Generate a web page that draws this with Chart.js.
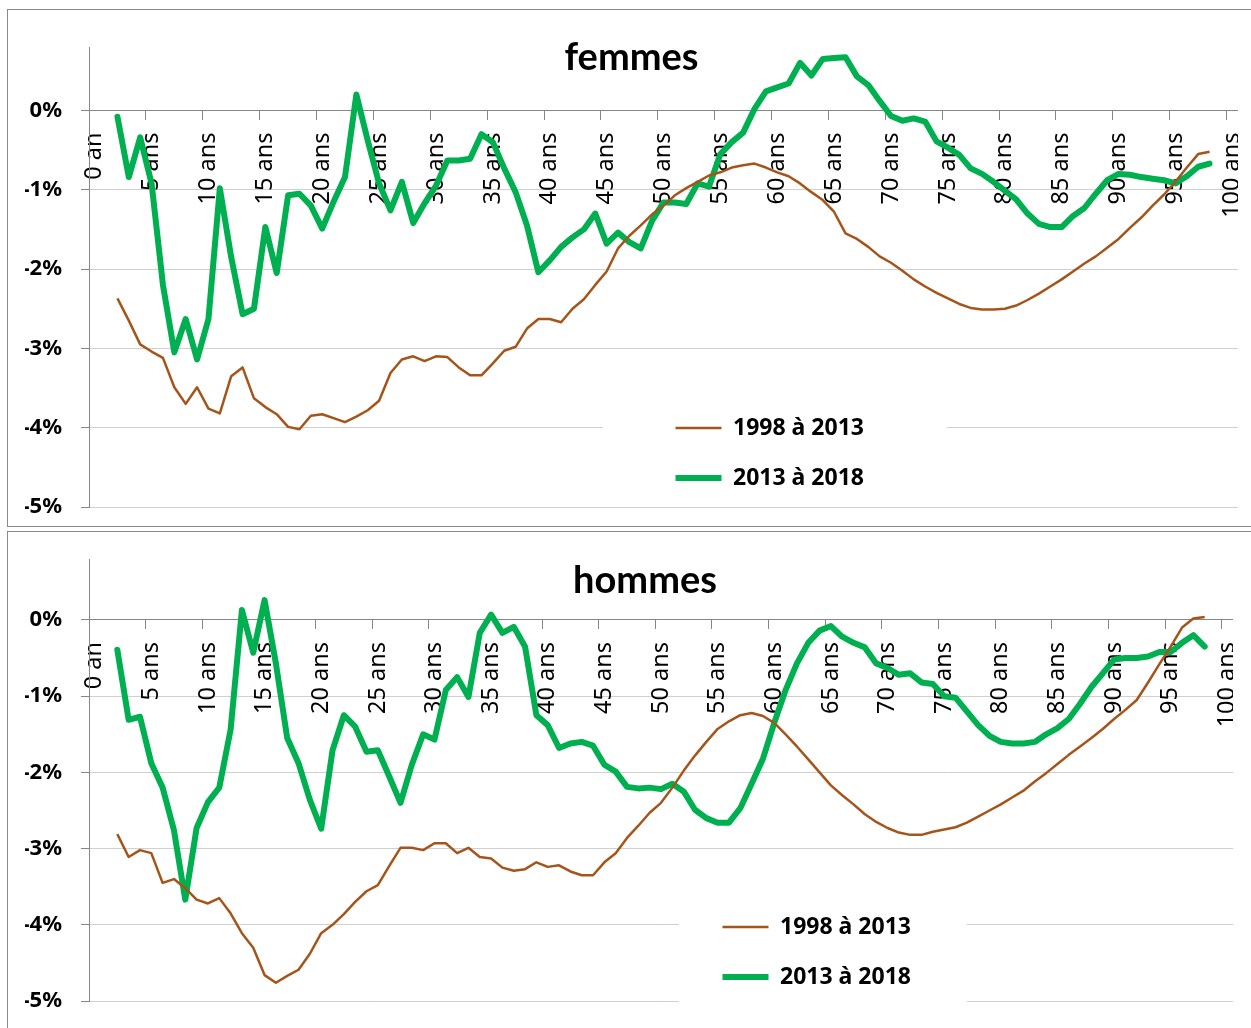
<!DOCTYPE html>
<html lang="fr">
<head>
<meta charset="utf-8">
<title>Évolution par âge - femmes et hommes</title>
<script src="https://cdn.jsdelivr.net/npm/chart.js@4.4.1/dist/chart.umd.min.js"></script>
<style>
  html, body { margin: 0; padding: 0; background: #fff; overflow: hidden; width: 1251px; height: 1028px; }
  .frame { position: absolute; left: 7px; width: 1300px; border: 1px solid #8a8a8a; background: #fff; }
  #frameF { top: 9px; height: 516px; }
  #frameH { top: 531px; height: 520px; }
  .box { position: absolute; left: 0; top: 0; }
  #boxF { width: 1230px; height: 516px; }
  #boxH { width: 1225px; height: 496px; }
</style>
</head>
<body>
<div class="frame" id="frameF"><div class="box" id="boxF"><canvas id="chartF"></canvas></div></div>
<div class="frame" id="frameH"><div class="box" id="boxH"><canvas id="chartH"></canvas></div></div>
<script>
// one category per age
const ageLabels = [
  '0 an', '1 an', '2 ans', '3 ans', '4 ans', '5 ans', '6 ans', '7 ans', '8 ans', '9 ans',
  '10 ans', '11 ans', '12 ans', '13 ans', '14 ans', '15 ans', '16 ans', '17 ans', '18 ans', '19 ans',
  '20 ans', '21 ans', '22 ans', '23 ans', '24 ans', '25 ans', '26 ans', '27 ans', '28 ans', '29 ans',
  '30 ans', '31 ans', '32 ans', '33 ans', '34 ans', '35 ans', '36 ans', '37 ans', '38 ans', '39 ans',
  '40 ans', '41 ans', '42 ans', '43 ans', '44 ans', '45 ans', '46 ans', '47 ans', '48 ans', '49 ans',
  '50 ans', '51 ans', '52 ans', '53 ans', '54 ans', '55 ans', '56 ans', '57 ans', '58 ans', '59 ans',
  '60 ans', '61 ans', '62 ans', '63 ans', '64 ans', '65 ans', '66 ans', '67 ans', '68 ans', '69 ans',
  '70 ans', '71 ans', '72 ans', '73 ans', '74 ans', '75 ans', '76 ans', '77 ans', '78 ans', '79 ans',
  '80 ans', '81 ans', '82 ans', '83 ans', '84 ans', '85 ans', '86 ans', '87 ans', '88 ans', '89 ans',
  '90 ans', '91 ans', '92 ans', '93 ans', '94 ans', '95 ans', '96 ans', '97 ans', '98 ans', '99 ans',
  '100 ans'
];

// series start at 2 ans and stop at 98 ans (values in %)
const firstAge = 2;

const femmes9813 = [
  -2.37, -2.65, -2.95, -3.04, -3.12, -3.49, -3.70, -3.49, -3.76, -3.82,
  -3.35, -3.24, -3.63, -3.74, -3.83, -3.99, -4.02, -3.85, -3.83, -3.88,
  -3.93, -3.86, -3.78, -3.66, -3.31, -3.14, -3.10, -3.16, -3.10, -3.11,
  -3.24, -3.34, -3.34, -3.19, -3.03, -2.98, -2.75, -2.63, -2.63, -2.67,
  -2.50, -2.38, -2.20, -2.03, -1.74, -1.58, -1.45, -1.31, -1.20, -1.07,
  -0.98, -0.90, -0.82, -0.78, -0.72, -0.69, -0.67, -0.72, -0.78, -0.83,
  -0.92, -1.03, -1.13, -1.28, -1.55, -1.62, -1.72, -1.84, -1.92, -2.02,
  -2.13, -2.22, -2.30, -2.37, -2.44, -2.49, -2.51, -2.51, -2.50, -2.46,
  -2.39, -2.31, -2.22, -2.13, -2.03, -1.93, -1.84, -1.73, -1.62, -1.48,
  -1.35, -1.20, -1.06, -0.90, -0.72, -0.55, -0.52
];

const femmes1318 = [
  -0.08, -0.84, -0.34, -0.92, -2.20, -3.05, -2.63, -3.14, -2.63, -0.98,
  -1.85, -2.57, -2.50, -1.47, -2.05, -1.07, -1.05, -1.20, -1.49, -1.15,
  -0.84, 0.20, -0.38, -0.92, -1.26, -0.90, -1.42, -1.17, -0.95, -0.63,
  -0.63, -0.61, -0.30, -0.40, -0.73, -1.03, -1.45, -2.04, -1.89, -1.72,
  -1.60, -1.50, -1.30, -1.68, -1.54, -1.66, -1.74, -1.39, -1.16, -1.16,
  -1.18, -0.92, -0.96, -0.55, -0.40, -0.28, 0.02, 0.24, 0.29, 0.34,
  0.60, 0.44, 0.65, 0.66, 0.67, 0.43, 0.32, 0.12, -0.07, -0.13,
  -0.10, -0.14, -0.39, -0.47, -0.56, -0.73, -0.80, -0.90, -1.01, -1.12,
  -1.30, -1.43, -1.47, -1.47, -1.33, -1.23, -1.05, -0.88, -0.80, -0.81,
  -0.84, -0.86, -0.88, -0.92, -0.83, -0.71, -0.67
];

const hommes9813 = [
  -2.81, -3.11, -3.02, -3.06, -3.45, -3.40, -3.52, -3.67, -3.72, -3.65,
  -3.85, -4.11, -4.30, -4.66, -4.76, -4.67, -4.59, -4.38, -4.11, -4.00,
  -3.86, -3.70, -3.56, -3.48, -3.23, -2.99, -2.99, -3.02, -2.93, -2.93,
  -3.06, -2.99, -3.11, -3.13, -3.25, -3.29, -3.27, -3.18, -3.24, -3.22,
  -3.30, -3.35, -3.35, -3.18, -3.06, -2.86, -2.70, -2.53, -2.40, -2.20,
  -1.98, -1.78, -1.60, -1.43, -1.33, -1.25, -1.22, -1.26, -1.35, -1.50,
  -1.66, -1.83, -2.00, -2.17, -2.30, -2.42, -2.55, -2.65, -2.73, -2.79,
  -2.82, -2.82, -2.78, -2.75, -2.72, -2.66, -2.58, -2.50, -2.42, -2.33,
  -2.24, -2.12, -2.01, -1.89, -1.77, -1.66, -1.55, -1.43, -1.30, -1.18,
  -1.05, -0.82, -0.58, -0.35, -0.10, 0.02, 0.04
];

const hommes1318 = [
  -0.39, -1.31, -1.27, -1.88, -2.20, -2.76, -3.67, -2.73, -2.39, -2.20,
  -1.44, 0.13, -0.43, 0.26, -0.57, -1.55, -1.88, -2.36, -2.74, -1.71,
  -1.25, -1.40, -1.73, -1.71, -2.05, -2.40, -1.90, -1.50, -1.57, -0.92,
  -0.75, -1.01, -0.17, 0.07, -0.17, -0.09, -0.35, -1.25, -1.38, -1.68,
  -1.62, -1.60, -1.65, -1.90, -1.99, -2.19, -2.21, -2.20, -2.22, -2.15,
  -2.25, -2.49, -2.60, -2.66, -2.66, -2.47, -2.15, -1.82, -1.35, -0.92,
  -0.57, -0.30, -0.14, -0.08, -0.22, -0.30, -0.36, -0.57, -0.63, -0.72,
  -0.70, -0.82, -0.84, -1.00, -1.02, -1.20, -1.38, -1.52, -1.60, -1.62,
  -1.62, -1.60, -1.50, -1.42, -1.30, -1.10, -0.88, -0.70, -0.52, -0.50,
  -0.50, -0.48, -0.42, -0.42, -0.30, -0.20, -0.35
];

const BROWN = '#a5541a';
const GREEN = '#00b050';
const AXIS = '#868686';
const GRID = '#d0d0d0';

Chart.defaults.font.family = '"Noto Sans", sans-serif';
Chart.defaults.color = '#000';

// spread a series over the full age list
function byAge(values) {
  return ageLabels.map((_, i) => {
    const k = i - firstAge;
    return (k >= 0 && k < values.length) ? values[k] : null;
  });
}

// moves the legend inside the plot and blanks the grid behind it, like the excel legend box
const legendSpot = {
  id: 'legendSpot',
  afterLayout(chart, args, opts) {
    const lg = chart.legend;
    if (!lg) return;
    const w = lg.width, h = lg.height;
    lg.left = opts.x;
    lg.top = opts.y;
    lg.right = opts.x + w;
    lg.bottom = opts.y + h;
  },
  beforeDatasetsDraw(chart, args, opts) {
    const [x, y, w, h] = opts.clear;
    const ctx = chart.ctx;
    ctx.save();
    ctx.fillStyle = '#ffffff';
    ctx.fillRect(x, y, w, h);
    ctx.restore();
    chart.legend.draw();
  }
};

function makeChart(id, p) {
  return new Chart(document.getElementById(id), {
    type: 'line',
    data: {
      labels: ageLabels,
      datasets: [
        {
          label: '1998 à 2013',
          data: byAge(p.older),
          borderColor: BROWN,
          backgroundColor: BROWN,
          borderWidth: 2.5,
          pointBorderColor: BROWN,
          pointBorderWidth: 2.5,
          borderJoinStyle: 'round'
        },
        {
          label: '2013 à 2018',
          data: byAge(p.recent),
          borderColor: GREEN,
          backgroundColor: GREEN,
          borderWidth: 6,
          pointBorderColor: GREEN,
          pointBorderWidth: 6,
          borderJoinStyle: 'round',
          borderCapStyle: 'round'
        }
      ]
    },
    options: {
      responsive: true,
      maintainAspectRatio: false,
      animation: false,
      events: [],
      // a negative right padding only widens the title box, so the title sits where excel put it
      layout: { padding: { left: 17, right: p.padRight, top: 0, bottom: p.padBottom } },
      elements: { line: { tension: 0 }, point: { radius: 0, hoverRadius: 0 } },
      scales: {
        x: {
          type: 'category',
          position: { y: 0 },
          offset: true,
          afterFit: (s) => { s.height = 0; s.paddingLeft = 0; s.paddingRight = 0; },
          grid: {
            drawOnChartArea: false,
            offset: true,
            tickLength: 9,
            tickColor: (c) => (c.index % 5 === 0 ? AXIS : 'rgba(0,0,0,0)')
          },
          border: { color: AXIS, width: 1 },
          ticks: {
            autoSkip: false,
            minRotation: 90,
            maxRotation: 90,
            padding: 13,
            color: '#000',
            font: { size: 23.5 },
            callback(v, i) { return i % 5 === 0 ? this.getLabelForValue(v) : ''; }
          }
        },
        y: {
          min: -5,
          max: 0.8,
          afterBuildTicks: (s) => { s.ticks = s.ticks.filter((t) => Number.isInteger(t.value)); },
          afterFit: (s) => { s.width = 64; s.paddingTop = 0; s.paddingBottom = 0; },
          grid: {
            color: (c) => (c.tick && c.tick.value === 0 ? AXIS : GRID),
            tickLength: 8,
            tickColor: AXIS
          },
          border: { color: AXIS, width: 1 },
          ticks: {
            stepSize: 1,
            padding: 19,
            color: '#000',
            font: { size: 22, weight: 'bold' },
            callback: (v) => v + '%'
          }
        }
      },
      plugins: {
        title: {
          display: true,
          text: p.title,
          color: '#000',
          font: { family: 'Lato', size: 38, weight: 'bold', lineHeight: 1.2 },
          padding: { top: p.titleTop, bottom: p.titleBottom }
        },
        legend: {
          position: 'chartArea',
          align: 'start',
          labels: {
            usePointStyle: true,
            pointStyle: 'line',
            pointStyleWidth: 46,
            padding: 27,
            color: '#000',
            font: { size: 23, weight: 'bold' }
          }
        },
        tooltip: { enabled: false },
        legendSpot: { x: p.legendX, y: p.legendY, clear: p.clear }
      }
    },
    plugins: [legendSpot]
  });
}

makeChart('chartF', {
  title: 'femmes',
  older: femmes9813,
  recent: femmes1318,
  padRight: 0,
  padBottom: 19,
  titleTop: 25,
  titleBottom: -33.6,
  legendX: 640.5,
  legendY: 379.5,
  clear: [595, 386, 344, 96]
});

makeChart('chartH', {
  title: 'hommes',
  older: hommes9813,
  recent: hommes1318,
  padRight: -32,
  padBottom: 27,
  titleTop: 26,
  titleBottom: -44.6,
  legendX: 687.5,
  legendY: 356.5,
  clear: [671, 366, 288, 114]
});
</script>
</body>
</html>
